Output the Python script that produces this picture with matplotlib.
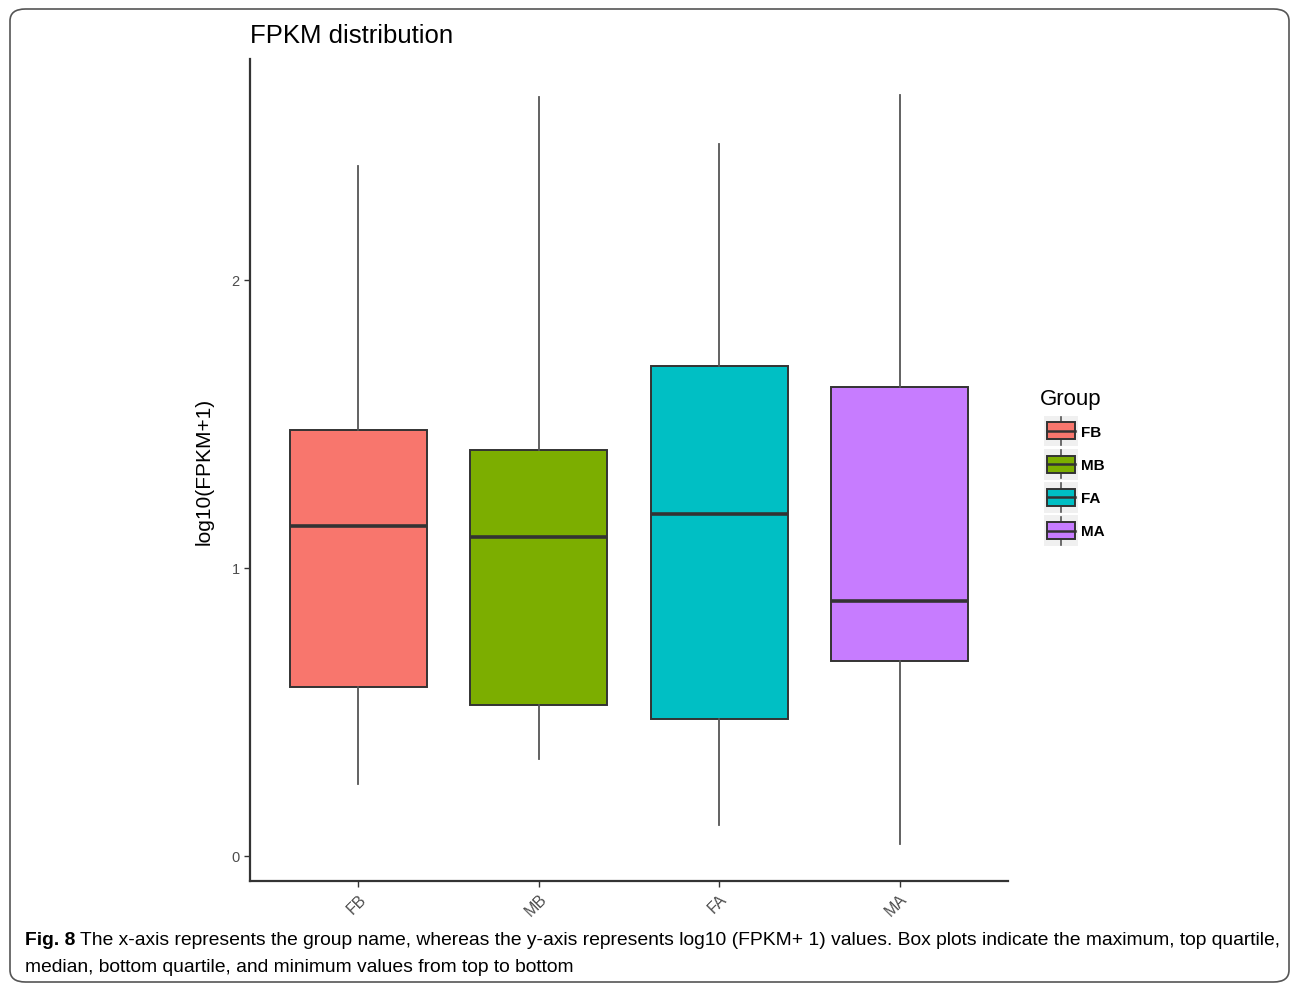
import matplotlib
matplotlib.use("Agg")
import matplotlib.pyplot as plt
from matplotlib.patches import Rectangle, FancyBboxPatch
from matplotlib.lines import Line2D
from matplotlib.legend_handler import HandlerBase

# ---- data ----
groups = ["FB", "MB", "FA", "MA"]
colors = ["#F8766D", "#7CAE00", "#00BFC4", "#C77CFF"]
whisk_low = [0.25, 0.337, 0.108, 0.042]
q1 = [0.587, 0.524, 0.476, 0.677]
median = [1.146, 1.108, 1.188, 0.885]
q3 = [1.479, 1.410, 1.701, 1.628]
whisk_high = [2.396, 2.635, 2.472, 2.642]
yticks = [0, 1, 2]

title = "FPKM distribution"
ylabel = "log10(FPKM+1)"
legend_title = "Group"
caption_bold = "Fig. 8"
caption_rest = (" The x-axis represents the group name, whereas the y-axis represents log10 (FPKM+ 1) values. "
                "Box plots indicate the maximum, top quartile,")
caption_line2 = "median, bottom quartile, and minimum values from top to bottom"

plt.rcParams['font.family'] = ['Liberation Sans', 'DejaVu Sans']

W, H = 1293, 987
fig = plt.figure(figsize=(W / 100, H / 100), dpi=100)

# rounded border around the whole figure
border = FancyBboxPatch((10 / W, 4 / H), (W - 14) / W, (H - 14) / H,
                        boxstyle="round,pad=0,rounding_size=0.012",
                        transform=fig.transFigure, fc='none', ec='#555555', lw=1.2)
fig.patches.append(border)

ax = fig.add_axes([250 / W, 1 - 882 / H, (1008 - 250) / W, (882 - 60) / H])

stats = []
for i, g in enumerate(groups):
    stats.append(dict(label=g, whislo=whisk_low[i], q1=q1[i], med=median[i],
                      q3=q3[i], whishi=whisk_high[i], fliers=[]))

positions = list(range(1, len(groups) + 1))
bp = ax.bxp(stats, positions=positions, widths=0.76, patch_artist=True,
            showcaps=False, showfliers=False,
            boxprops=dict(ec='#333333', lw=1.4),
            medianprops=dict(color='#333333', lw=2.6),
            whiskerprops=dict(color='#555555', lw=1.3))
for patch, c in zip(bp['boxes'], colors):
    patch.set_facecolor(c)

ax.set_xlim(0.4, 4.6)
ax.set_ylim(-0.087, 2.767)
ax.set_yticks(yticks)
ax.set_yticklabels([str(t) for t in yticks])
ax.set_xticks(positions)
ax.set_xticklabels(groups, rotation=45, ha='right', rotation_mode='anchor')
ax.tick_params(axis='both', colors='#333333', labelcolor='#4D4D4D', labelsize=10.5,
               length=4, width=1)
ax.tick_params(axis='x', labelsize=11.5, pad=3)
for s in ['top', 'right']:
    ax.spines[s].set_visible(False)
for s in ['left', 'bottom']:
    ax.spines[s].set_color('#333333')
    ax.spines[s].set_linewidth(1.6)

ax.set_ylabel(ylabel, fontsize=15, color='black')
ax.yaxis.set_label_coords(-0.0475, 0.5)
fig.text(250 / W, 1 - 36 / H, title, fontsize=18.5, ha='left', va='center')


# ---- legend with box-plot glyphs ----
class BoxHandler(HandlerBase):
    def create_artists(self, legend, orig_handle, xdescent, ydescent, width,
                       height, fontsize, trans):
        fc = orig_handle.get_facecolor()
        x0, y0 = -xdescent, -ydescent
        bg = Rectangle((x0 - 2, y0), width + 4, height, fc='#F0F0F0',
                       ec='none', transform=trans)
        bh = height * 0.55
        by = y0 + (height - bh) / 2
        box = Rectangle((x0, by), width, bh, fc=fc, ec='#333333', lw=1.4,
                        transform=trans)
        med = Line2D([x0, x0 + width], [by + bh / 2] * 2, color='#333333',
                     lw=1.8, transform=trans)
        cx = x0 + width / 2
        w1 = Line2D([cx, cx], [y0 + 1, by], color='#555555', lw=1.2, transform=trans)
        w2 = Line2D([cx, cx], [by + bh, y0 + height - 1], color='#555555', lw=1.2,
                    transform=trans)
        return [bg, w1, w2, box, med]


handles = [Rectangle((0, 0), 1, 1, fc=c) for c in colors]
leg = fig.legend(handles, groups, handler_map={Rectangle: BoxHandler()},
                 loc='upper left', bbox_to_anchor=(1047 / W, 1 - 416.5 / H),
                 frameon=False, prop=dict(size=11, weight='bold'),
                 handlelength=1.83, handleheight=2.74,
                 labelspacing=0.15, handletextpad=0.4, borderaxespad=0,
                 borderpad=0)
fig.text(1040 / W, 1 - 399 / H, legend_title, fontsize=16, ha='left', va='center')

# ---- caption ----
cap_family = ['Liberation Sans Narrow', 'Liberation Sans', 'DejaVu Sans']
t1 = fig.text(25 / W, 1 - 941 / H, caption_bold, fontsize=13.9, fontweight='bold',
              ha='left', va='center', family=cap_family)
fig.canvas.draw()
ex = t1.get_window_extent()
fig.text(ex.x1 / W, 1 - 941 / H, caption_rest, fontsize=13.9, ha='left', va='center',
         family=cap_family)
fig.text(25 / W, 1 - 968 / H, caption_line2, fontsize=13.9, ha='left', va='center',
         family=cap_family)

fig.savefig("out.png", dpi=100)
